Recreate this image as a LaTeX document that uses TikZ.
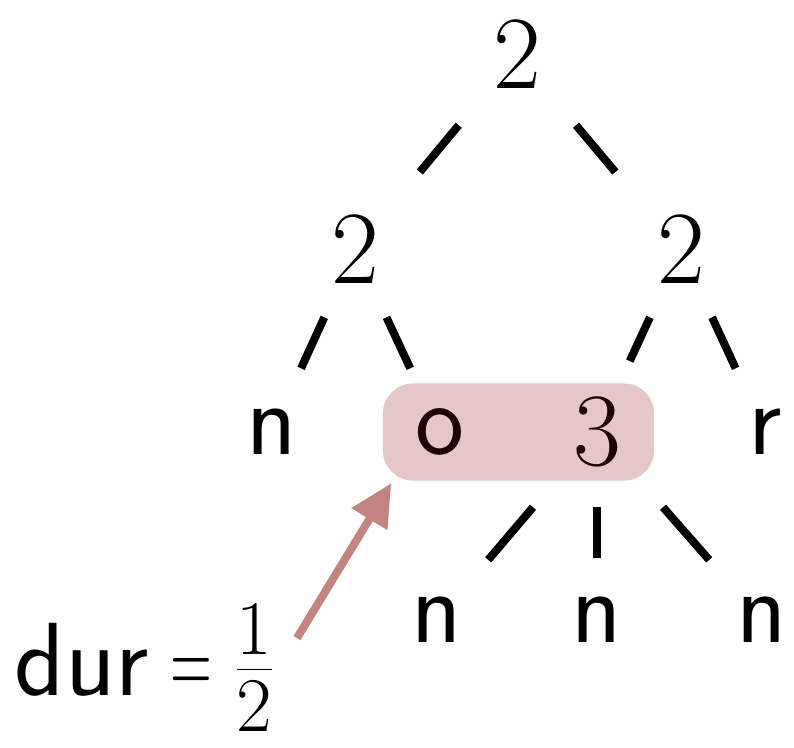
\RequirePackage{fix-cm}
\documentclass[tikz,border=0pt]{standalone}
\usetikzlibrary{calc, arrows.meta}
\definecolor{hlred}{RGB}{137,0,0}
\definecolor{arrowred}{RGB}{194,132,128}
\newcommand{\fracnum}[1]{\mbox{\fontsize{22}{26}\selectfont$#1$}}
\tikzset{
  leaf/.style={font=\fontsize{29.6}{35}\selectfont\sffamily},
  edge/.style={line width=0.08cm},
  hlbox/.style={fill=hlred, fill opacity=0.22, rounded corners=0.3cm, minimum width=2.71cm, minimum height=0.97cm, inner sep=0pt},
  pointer/.style={arrowred, line width=0.08cm, -{Triangle[length=0.42cm, width=0.4cm]}}
}
\begin{document}
\begin{tikzpicture}[x=0.01cm, y=-0.01cm, every node/.style={font=\fontsize{29.6}{35}\selectfont}]
  \useasboundingbox (0,0) rectangle (794,747);
  \node (top) at (517,55) {$2$};
  \node (l2) at (355,250) {$2$};
  \node (r2) at (681,250) {$2$};
  \node[leaf] (n1) at (272,432) {n};
  \node[leaf] (o) at (440,432) {o};
  \node (three) at (597,432) {$3$};
  \node[leaf] (r) at (765,432) {r};
  \node[leaf] (n2) at (437,620) {n};
  \node[leaf] (n3) at (597,620) {n};
  \node[leaf] (n4) at (762,620) {n};
  \node[hlbox] (hl) at ($(o)!0.5!(three)$) {};
  \node[leaf, anchor=west, inner sep=0pt] (dur) at (14,668) {dur\hspace{0.22cm}\scalebox{0.55}[1]{=}\hspace{0.2cm}$\frac{\fracnum{1}}{\fracnum{2}}$};
  \coordinate (tail) at (297,638);
  \foreach \a/\b/\s/\e in {top/l2/0.36/0.60, top/r2/0.36/0.60, l2/n1/0.37/0.65, l2/o/0.37/0.65, r2/three/0.37/0.61, r2/r/0.37/0.65, three/n2/0.40/0.68, three/n3/0.40/0.67, three/n4/0.40/0.68}
    \draw[edge] ($(\a)!\s!(\b)$) -- ($(\a)!\e!(\b)$);
  \draw[pointer] (tail) -- ($(hl.south west)+(9,2)$);
\end{tikzpicture}
\end{document}
